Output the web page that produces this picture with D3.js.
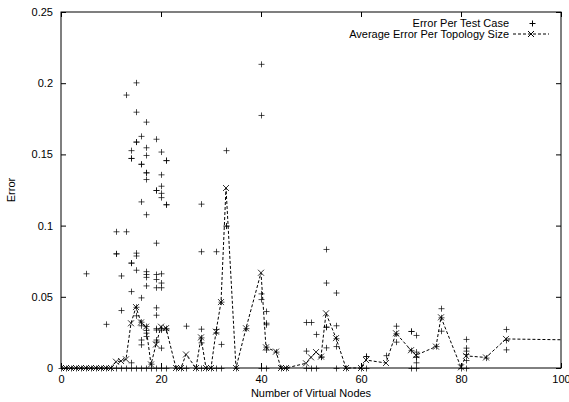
<!DOCTYPE html>
<html><head><meta charset="utf-8">
<script src="https://cdn.jsdelivr.net/npm/d3@7"></script>
<style>body{margin:0;background:#fff}svg{display:block}text{font-family:"Liberation Sans",Arial,sans-serif;font-size:11px;fill:#000}</style>
</head><body><svg id="c" width="569" height="402"></svg>
<script>
const xTicks = [0, 20, 40, 60, 80, 100];
const yTicks = [0, 0.05, 0.1, 0.15, 0.2, 0.25];
const yTickLabels = ["0", "0.05", "0.1", "0.15", "0.2", "0.25"];
const xLabel = "Number of Virtual Nodes";
const yLabel = "Error";
const seriesNames = ["Error Per Test Case", "Average Error Per Topology Size"];

// Average error per topology size
const avgSize  = [0,1,2,3,4,5,6,7,8,9,10,11,12,13,14,15,16,17,18,19,20,21,23,24,25,27,28,29,30,31,32,33,35,37,40,41,43,44,45,49,50,51,52,53,55,57,60,61,65,67,70,71,75,76,80,81,85,89,120];
const avgError = [0,0,0,0,0,0,0,0,0,0,0,0.0044,0.0049,0.0061,0.0314,0.0428,0.032,0.029,0.0025,0.0165,0.029,0.028,0,0,0.0095,0,0.0215,0,0,0.0255,0.0463,0.1264,0,0.0279,0.0669,0.0145,0.0115,0,0,0.0033,0.0075,0.0112,0.008,0.0384,0.021,0,0,0.0056,0.0035,0.0244,0.0125,0.009,0.015,0.0356,0.0005,0.0085,0.0074,0.0204,0.0188];

// Error per test case (size, error)
const caseSize = [
  0,1,2,3,4,5,6,7,8,9,10,11,12,13,14,15,16,17,18,19,20,21,23,24,25,27,28,29,30,31,32,35,40,41,44,45,49,50,51,55,57,60,61,70,71,80,81,
  5,9,11,11,11,12,12,13,13,
  14,14,14,14,14,14,14,
  15,15,15,15,15,15,15,15,15,
  16,16,16,16,16,16,16,16,16,
  17,17,17,17,17,17,17,17,17,17,17,17,17,17,17,
  18,
  19,19,19,19,19,19,19,19,19,19,19,19,19,
  20,20,20,20,20,20,20,20,20,20,20,
  21,21,21,21,21,21,
  25,28,28,28,28,28,31,31,31,32,32,33,33,33,37,
  40,40,40,40,41,41,41,41,41,43,
  49,49,50,51,52,52,53,53,53,53,53,55,55,55,55,
  61,61,65,67,67,67,70,70,70,71,71,71,71,71,
  75,76,76,76,81,81,81,81,81,85,89,89,89
];
const caseError = [
  0,0,0,0,0,0,0,0,0,0,0,0,0,0,0,0,0,0,0,0,0,0,0,0,0,0,0,0,0,0,0,0,0,0,0,0,0,0,0,0,0,0,0,0,0,0,0,
  0.0665,0.031,0.096,0.0805,0.0805,0.065,0.0407,0.192,0.096,
  0.153,0.1475,0.1475,0.074,0.074,0.054,0.004,
  0.2006,0.180,0.159,0.159,0.081,0.079,0.069,0.037,0.043,
  0.163,0.1434,0.1434,0.117,0.0496,0.0325,0.030,0.020,0.0166,
  0.173,0.155,0.1496,0.1374,0.1374,0.1327,0.108,0.068,0.066,0.064,0.058,0.0295,0.0267,0.0248,0.0225,
  0.003,
  0.161,0.125,0.125,0.088,0.066,0.0625,0.0567,0.0426,0.0374,0.028,0.027,0.0185,0.020,
  0.152,0.136,0.128,0.123,0.120,0.0665,0.060,0.0567,0.028,0.027,0.0143,
  0.146,0.146,0.115,0.115,0.028,0.027,
  0.0297,0.1154,0.082,0.0276,0.018,0.0215,0.082,0.0274,0.025,0.0169,0.0466,0.153,0.100,0.100,0.028,
  0.2136,0.1777,0.0524,0.0484,0.040,0.0318,0.0307,0.015,0.013,0.0115,
  0.0323,0.0122,0.0323,0.0239,0.008,0.008,0.0836,0.060,0.029,0.029,0.0145,0.053,0.030,0.0209,0.0154,
  0.0084,0.0084,0.009,0.0297,0.0185,0.0244,0.026,0.026,0.0125,0.0232,0.0115,0.008,0.008,0.004,
  0.0154,0.042,0.0356,0.0262,0.0204,0.0143,0.0122,0.0098,0.0056,0.0073,0.0274,0.0197,0.0131
];

const svg = d3.select("#c");
const L = 61, R = 561, T = 12, B = 368;
const x = d3.scaleLinear().domain([0, 100]).range([L, R]);
const y = d3.scaleLinear().domain([0, 0.25]).range([B, T]);

svg.append("defs").append("clipPath").attr("id", "clip")
  .append("rect").attr("x", L).attr("y", T - 5).attr("width", R - L).attr("height", B - T + 10);

const plus = "M-3,0H3M0,-3V3";
const cross = "M-3,-3L3,3M-3,3L3,-3";

// axes (inward ticks on all sides)
const tl = 5;
const gx = svg.append("g").attr("transform", `translate(0,${B})`)
  .call(d3.axisBottom(x).tickValues(xTicks).tickSizeInner(-tl).tickSizeOuter(0).tickPadding(8));
const gxt = svg.append("g").attr("transform", `translate(0,${T})`)
  .call(d3.axisTop(x).tickValues(xTicks).tickSizeInner(-tl).tickSizeOuter(0).tickFormat(""));
const gy = svg.append("g").attr("transform", `translate(${L},0)`)
  .call(d3.axisLeft(y).tickValues(yTicks).tickSizeInner(-tl).tickSizeOuter(0).tickPadding(8)
    .tickFormat((d, i) => yTickLabels[i]));
const gyr = svg.append("g").attr("transform", `translate(${R},0)`)
  .call(d3.axisRight(y).tickValues(yTicks).tickSizeInner(-tl).tickSizeOuter(0).tickFormat(""));
[gx, gxt, gy, gyr].forEach(g => {
  g.select(".domain").remove();
  g.selectAll("line").attr("stroke", "#000");
  g.selectAll("text").attr("font-family", '"Liberation Sans",Arial,sans-serif').attr("font-size", 11).attr("fill", "#000");
});
gx.selectAll("text").attr("dy", "0").attr("y", 15);

// frame
svg.append("rect").attr("x", L).attr("y", T).attr("width", R - L).attr("height", B - T)
  .attr("fill", "none").attr("stroke", "#000").attr("stroke-width", 1);

// average line
const plot = svg.append("g").attr("clip-path", "url(#clip)");
const avgPts = avgSize.map((s, i) => [s, avgError[i]]);
plot.append("path").datum(avgPts)
  .attr("fill", "none").attr("stroke", "#000").attr("stroke-width", 1).attr("stroke-dasharray", "3,2")
  .attr("d", d3.line().x(d => x(d[0])).y(d => y(d[1])));
plot.selectAll(".avgm").data(avgPts).join("path").attr("class", "avgm")
  .attr("transform", d => `translate(${x(d[0])},${y(d[1])})`)
  .attr("d", cross).attr("fill", "none").attr("stroke", "#000").attr("stroke-width", 1).attr("stroke-opacity", 0.8);

// test case points
const casePts = caseSize.map((s, i) => [s, caseError[i]]);
svg.append("g").selectAll("path").data(casePts).join("path")
  .attr("transform", d => `translate(${x(d[0]) + 0.5},${y(d[1]) + 0.5})`)
  .attr("d", plus).attr("fill", "none").attr("stroke", "#000").attr("stroke-width", 1).attr("stroke-opacity", 0.7);

// axis labels
svg.append("text").attr("x", (L + R) / 2).attr("y", 397).attr("text-anchor", "middle").text(xLabel);
svg.append("text").attr("transform", `translate(15,${(T + B) / 2}) rotate(-90)`).attr("text-anchor", "middle").text(yLabel);

// legend
const lg = svg.append("g");
lg.append("text").attr("x", 509).attr("y", 27).attr("text-anchor", "end").text(seriesNames[0]);
lg.append("path").attr("transform", "translate(532.5,23.5)").attr("d", plus).attr("fill", "none").attr("stroke", "#000");
lg.append("text").attr("x", 509).attr("y", 38).attr("text-anchor", "end").text(seriesNames[1]);
lg.append("line").attr("x1", 513).attr("x2", 549).attr("y1", 34).attr("y2", 34)
  .attr("stroke", "#000").attr("stroke-dasharray", "3,2");
lg.append("path").attr("transform", "translate(531,34)").attr("d", cross).attr("fill", "none").attr("stroke", "#000");
</script></body></html>
